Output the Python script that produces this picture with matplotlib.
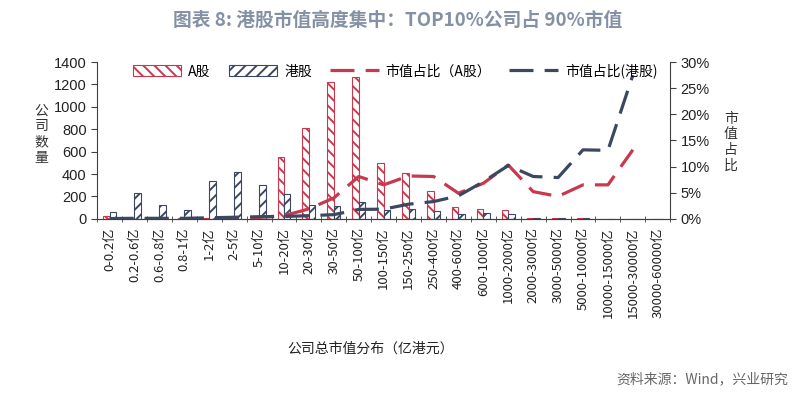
import matplotlib.pyplot as plt
import numpy as np

plt.rcParams['font.family'] = ['Noto Sans CJK SC', 'DejaVu Sans']
plt.rcParams['hatch.linewidth'] = 1.4

categories = ['0-0.2亿', '0.2-0.6亿', '0.6-0.8亿', '0.8-1亿', '1-2亿', '2-5亿',
              '5-10亿', '10-20亿', '20-30亿', '30-50亿', '50-100亿', '100-150亿',
              '150-250亿', '250-400亿', '400-600亿', '600-1000亿', '1000-2000亿',
              '2000-3000亿', '3000-5000亿', '5000-10000亿', '10000-15000亿',
              '15000-30000亿', '30000-60000亿']

a_count = [28, 3, 3, 3, 5, 10, 25, 550, 810, 1220, 1265, 495, 405,
           250, 110, 86, 75, 8, 5, 3, 2, 2, 0]
hk_count = [65, 235, 120, 80, 335, 415, 300, 220, 120, 115, 152, 75, 88,
            72, 45, 52, 45, 5, 3, 3, 2, 1, 1]

a_share = [0.0, 0.0, 0.0, 0.0, 0.02, 0.05, 0.3, 0.6, 1.9, 4.0, 8.1, 6.5, 8.2,
           8.1, 4.9, 6.8, 10.3, 5.2, 4.3, 6.5, 6.5, 13.2, np.nan]
hk_share = [0.05, 0.1, 0.1, 0.1, 0.2, 0.3, 0.4, 0.45, 0.6, 0.8, 1.8, 1.85, 2.8,
            3.3, 4.4, 7.1, 10.2, 8.1, 7.9, 13.2, 13.1, 27.5, np.nan]

red = '#c9384d'
navy = '#3b4860'
grey = '#404040'

fig = plt.figure(figsize=(7.96, 3.95), dpi=100)
ax = fig.add_axes([0.122, 0.446, 0.720, 0.397])
ax2 = ax.twinx()

x = np.arange(len(categories))
w = 0.26
ax.bar(x - w / 2, a_count, width=w, color='white', edgecolor=red,
       hatch='\\\\\\', linewidth=0.8, label='A股', zorder=2)
ax.bar(x + w / 2, hk_count, width=w, color='white', edgecolor=navy,
       hatch='///', linewidth=0.8, label='港股', zorder=2)

ax2.plot(x, np.array(a_share) / 100, color=red, lw=2.3,
         dashes=(7.5, 3.5), label='市值占比（A股）')
ax2.plot(x, np.array(hk_share) / 100, color=navy, lw=2.3,
         dashes=(7.5, 3.5), label='市值占比(港股)')

ax.set_xlim(-0.5, len(categories) - 0.5)
ax.set_ylim(0, 1400)
ax.set_yticks(range(0, 1401, 200))
ax2.set_ylim(0, 0.30)
ax2.set_yticks(np.arange(0, 0.301, 0.05))
ax2.set_yticklabels([f'{int(round(v * 100))}%' for v in np.arange(0, 0.301, 0.05)])

ax.set_xticks(x)
ax.set_xticklabels(categories, rotation=90, fontsize=9.5, color='#222222')
ax.set_xticks(np.arange(-0.5, len(categories)), minor=True)
ax.tick_params(axis='x', which='major', length=0, pad=6)
ax.tick_params(axis='x', which='minor', length=5, direction='inout', color=grey)
ax.tick_params(axis='y', length=4, direction='out', color=grey,
               labelsize=10.5, labelcolor='#222222')
ax2.tick_params(axis='y', length=4, direction='out', color=grey,
                labelsize=10.5, labelcolor='#222222')
for a in (ax, ax2):
    a.spines['top'].set_visible(False)
    for s in ('left', 'right', 'bottom'):
        a.spines[s].set_color(grey)
ax2.spines['left'].set_visible(False)
ax.spines['right'].set_visible(False)
for lab in ax.get_yticklabels() + ax2.get_yticklabels():
    lab.set_family(['Liberation Sans', 'DejaVu Sans'])

h1, l1 = ax.get_legend_handles_labels()
h2, l2 = ax2.get_legend_handles_labels()
ax2.legend(h1 + h2, l1 + l2, ncol=4, loc='upper center',
           bbox_to_anchor=(0.52, 1.07), frameon=False, fontsize=10,
           handlelength=3.5, handleheight=0.9, columnspacing=1.3,
           handletextpad=0.5)

fig.text(0.5, 0.948, '图表 8: 港股市值高度集中：TOP10%公司占 90%市值',
         ha='center', va='center', fontsize=13.5, fontweight='bold', color='#8491a5')
fig.text(0.052, 0.66, '公\n司\n数\n量', ha='center', va='center',
         fontsize=10, color='#333333', linespacing=1.15)
fig.text(0.918, 0.64, '市\n值\n占\n比', ha='center', va='center',
         fontsize=10, color='#333333', linespacing=1.15)
fig.text(0.465, 0.118, '公司总市值分布（亿港元）', ha='center', va='center',
         fontsize=10, color='#222222')
fig.text(0.99, 0.04, '资料来源：Wind，兴业研究', ha='right', va='center',
         fontsize=10, color='#666666')

fig.savefig('out.png', dpi=100)
